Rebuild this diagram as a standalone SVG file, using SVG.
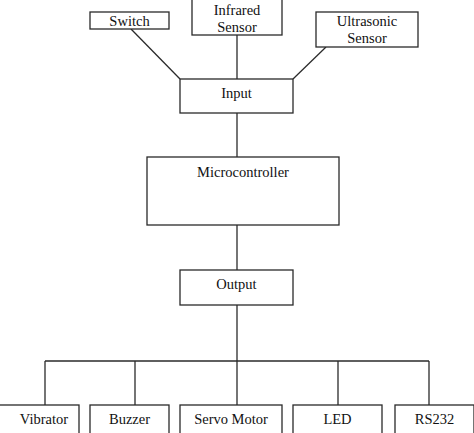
<svg xmlns="http://www.w3.org/2000/svg" width="474" height="433" viewBox="0 0 474 433">
<style>
.box{fill:#fff;stroke:#2a2a2a;stroke-width:1.3}
.ln{fill:none;stroke:#2a2a2a;stroke-width:1.3}
text{font-family:'Liberation Serif','Times New Roman',Times,'DejaVu Serif',serif;font-size:14.5px;fill:#111;text-anchor:middle}
</style>
<rect width="474" height="433" fill="#fff"/>
<g id="connectors">
<line class="ln" x1="131" y1="29" x2="180" y2="79"/>
<line class="ln" x1="237" y1="35" x2="237" y2="79"/>
<line class="ln" x1="326" y1="47" x2="293" y2="79"/>
<line class="ln" x1="237" y1="113" x2="237" y2="157"/>
<line class="ln" x1="237" y1="225" x2="237" y2="270"/>
<line class="ln" x1="237" y1="305" x2="237" y2="405"/>
<line class="ln" x1="45" y1="361" x2="429" y2="361"/>
<line class="ln" x1="45" y1="361" x2="45" y2="405"/>
<line class="ln" x1="135" y1="361" x2="135" y2="405"/>
<line class="ln" x1="338" y1="361" x2="338" y2="405"/>
<line class="ln" x1="429" y1="361" x2="429" y2="405"/>
</g>
<g id="switch"><rect class="box" x="90" y="12" width="79" height="17"/><text x="129.5" y="26">Switch</text></g>
<g id="infrared"><rect class="box" x="192" y="-2" width="90" height="37"/><text x="237" y="15">Infrared</text><text x="237" y="32">Sensor</text></g>
<g id="ultrasonic"><rect class="box" x="316" y="12" width="102" height="35"/><text x="367" y="26">Ultrasonic</text><text x="367" y="43">Sensor</text></g>
<g id="input"><rect class="box" x="180" y="79" width="113" height="34"/><text x="236.5" y="98">Input</text></g>
<g id="microcontroller"><rect class="box" x="147" y="157" width="192" height="68"/><text x="243" y="177">Microcontroller</text></g>
<g id="output"><rect class="box" x="180" y="270" width="113" height="35"/><text x="236.5" y="289">Output</text></g>
<g id="vibrator"><rect class="box" x="-2" y="405" width="81" height="40"/><text x="44" y="424">Vibrator</text></g>
<g id="buzzer"><rect class="box" x="90" y="405" width="79" height="40"/><text x="129.5" y="424">Buzzer</text></g>
<g id="servo"><rect class="box" x="180" y="405" width="102" height="40"/><text x="231" y="424">Servo Motor</text></g>
<g id="led"><rect class="box" x="293" y="405" width="89" height="40"/><text x="337.5" y="424">LED</text></g>
<g id="rs232"><rect class="box" x="395" y="405" width="79" height="40"/><text x="434.5" y="424">RS232</text></g>
</svg>
